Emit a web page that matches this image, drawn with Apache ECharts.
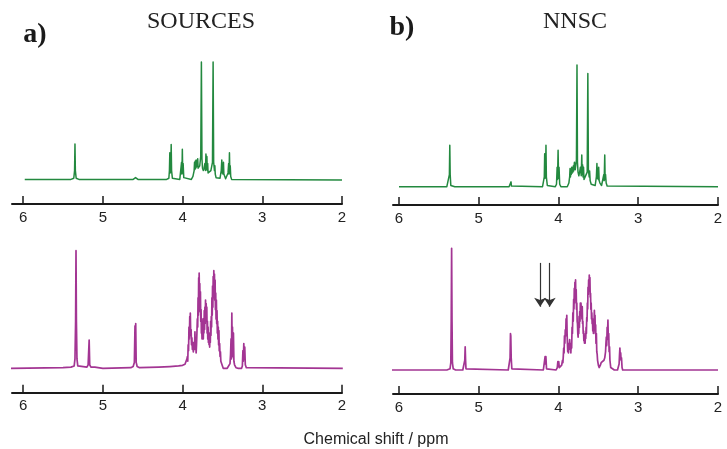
<!DOCTYPE html>
<html>
<head>
<meta charset="utf-8">
<script src="https://cdn.jsdelivr.net/npm/echarts@6/dist/echarts.min.js"></script>
<style>html,body{margin:0;padding:0;background:#fff}#c{width:727px;height:449px}</style>
</head>
<body>
<div id="c"></div>
<script>
// ---------- data (chemical shift in ppm, relative intensity in % of panel max) ----------
const tickValues = [2, 3, 4, 5, 6];
const panelTitles = ['SOURCES', 'NNSC'];
const panelLetters = ['a)', 'b)'];
const axisTitle = 'Chemical shift / ppm';

// a) SOURCES, top (green)
const srcTopPpm = [5.98,5.40,5.365,5.355,5.35,5.345,5.335,5.30,4.62,4.595,4.59,4.585,4.56,4.20,4.172,4.165,4.16,4.155,4.148,4.143,4.138,4.128,4.11,4.035,4.02,4.013,4.008,4.003,3.998,3.993,3.985,3.97,3.89,3.87,3.855,3.85,3.845,3.84,3.835,3.83,3.825,3.82,3.815,3.81,3.805,3.795,3.785,3.772,3.764,3.757,3.75,3.74,3.73,3.72,3.713,3.707,3.70,3.695,3.69,3.685,3.68,3.67,3.66,3.645,3.625,3.617,3.61,3.60,3.595,3.59,3.58,3.56,3.53,3.515,3.508,3.503,3.498,3.493,3.487,3.482,3.475,3.46,3.44,3.43,3.422,3.417,3.412,3.407,3.402,3.396,3.385,3.36,2.0];
const srcTopInt = [0.5,0.5,1.5,8,30.5,8,1.5,0.5,0.5,1,2,1,0.5,0.5,1.5,8,23,6,8,30,8,1.5,0.5,0.5,2,15,5,26,6,14,2,0.5,0.5,3,8,15,9,16,10,17,11,16,12,18,10,9,12,20,100,18,10,8,10,14,8,22,9,20,8,14,6,5,6,8,15,100,15,8,12,5,2,1,1.5,8,17,6,13,5,15,5,4,1,1,6,14,5,23,6,12,3,0.5,0,0];

// b) NNSC, top (green)
const nnscTopPpm = [6.0,5.40,5.375,5.368,5.363,5.358,5.35,5.30,4.62,4.60,4.595,4.59,4.57,4.20,4.185,4.178,4.173,4.168,4.162,4.157,4.152,4.14,4.12,4.04,4.025,4.017,4.012,4.005,3.999,3.993,3.985,3.97,3.89,3.87,3.86,3.855,3.85,3.845,3.84,3.835,3.83,3.825,3.82,3.815,3.81,3.80,3.79,3.775,3.768,3.762,3.755,3.745,3.735,3.725,3.715,3.708,3.703,3.698,3.692,3.686,3.68,3.67,3.655,3.64,3.632,3.625,3.615,3.61,3.603,3.59,3.57,3.54,3.525,3.518,3.513,3.507,3.502,3.496,3.49,3.48,3.46,3.44,3.432,3.427,3.42,3.415,3.41,3.402,3.39,3.37,2.0];
const nnscTopInt = [0,0,1,10,34,10,1,0,0,0.5,4,0.5,0,0,1,8,27,7,10,34,8,1,0,0,2,16,6,30,7,16,2,0,0,3,8,15,8,14,10,16,11,15,12,17,13,20,14,22,100,20,12,9,12,16,9,26,10,18,8,16,6,5,7,12,93,14,8,13,5,2,1,1,8,19,7,15,6,16,5,3,1,2,10,5,26,6,10,3,0.5,0,0];

// a) SOURCES, bottom (magenta)
const srcBotPpm = [6.18,5.5,5.40,5.36,5.35,5.342,5.337,5.332,5.325,5.315,5.29,5.20,5.185,5.172,5.165,5.15,5.1,5.0,4.65,4.62,4.605,4.597,4.592,4.588,4.582,4.57,4.54,4.30,4.16,4.15,4.14,4.05,4.0,3.97,3.955,3.945,3.94,3.935,3.93,3.925,3.92,3.915,3.91,3.907,3.903,3.898,3.893,3.888,3.883,3.877,3.872,3.865,3.86,3.855,3.85,3.845,3.84,3.835,3.83,3.825,3.82,3.815,3.81,3.806,3.802,3.798,3.795,3.792,3.788,3.784,3.78,3.776,3.772,3.768,3.764,3.76,3.756,3.752,3.748,3.744,3.74,3.736,3.732,3.728,3.724,3.72,3.716,3.712,3.708,3.704,3.70,3.696,3.692,3.688,3.684,3.68,3.676,3.672,3.668,3.664,3.66,3.656,3.652,3.648,3.644,3.64,3.636,3.632,3.628,3.624,3.62,3.616,3.612,3.608,3.604,3.60,3.596,3.592,3.588,3.584,3.58,3.576,3.572,3.568,3.564,3.56,3.556,3.552,3.548,3.544,3.54,3.535,3.53,3.525,3.52,3.51,3.50,3.49,3.44,3.42,3.405,3.398,3.392,3.387,3.382,3.378,3.374,3.369,3.362,3.356,3.348,3.33,3.30,3.26,3.25,3.243,3.238,3.232,3.226,3.22,3.213,3.2,3.18,1.99];
const srcBotInt = [0,0.5,1,2,8,40,100,40,8,2,1,1,3,24,3,1,1,0,0.5,1.5,5,36,20,38,5,1.5,0.5,1,1.5,3,1.5,2,2.5,3.5,4,8,10,6,20,15,35,25,44,30,47,28,33,20,26,16,22,14,18,22,16,31,18,24,13,20,30,42,35,60,45,77,55,81,58,72,48,65,40,50,30,35,25,38,28,42,25,40,30,49,33,52,38,58,42,55,40,52,30,40,25,35,22,30,20,26,18,30,22,40,28,44,35,60,45,70,52,78,60,83,62,80,58,75,50,64,42,58,38,49,30,40,25,35,20,32,15,21,10,14,6,7,2,0,0,1,4,12,25,8,47,20,35,10,30,6,3,0.5,0,0,2,15,6,21,8,18,3,0.5,0,0];

// b) NNSC, bottom (magenta)
const nnscBotPpm = [6.21,5.40,5.36,5.35,5.345,5.34,5.335,5.33,5.32,5.29,5.20,5.18,5.175,5.17,5.165,5.16,5.14,4.63,4.615,4.607,4.602,4.598,4.593,4.585,4.56,4.19,4.175,4.168,4.163,4.158,4.15,4.13,4.03,4.015,4.008,4.003,3.997,3.99,3.975,3.96,3.95,3.945,3.94,3.935,3.93,3.925,3.92,3.915,3.91,3.905,3.90,3.896,3.892,3.888,3.884,3.88,3.875,3.87,3.865,3.86,3.855,3.85,3.845,3.84,3.835,3.83,3.825,3.82,3.815,3.81,3.806,3.802,3.798,3.794,3.79,3.786,3.782,3.778,3.774,3.77,3.766,3.762,3.758,3.754,3.75,3.746,3.742,3.738,3.734,3.73,3.726,3.722,3.718,3.714,3.71,3.706,3.702,3.698,3.694,3.69,3.686,3.682,3.678,3.674,3.67,3.666,3.662,3.658,3.654,3.65,3.646,3.642,3.638,3.634,3.63,3.626,3.622,3.618,3.614,3.61,3.606,3.602,3.598,3.594,3.59,3.586,3.582,3.578,3.574,3.57,3.566,3.562,3.558,3.554,3.55,3.546,3.542,3.538,3.534,3.53,3.525,3.52,3.515,3.51,3.50,3.49,3.475,3.465,3.455,3.44,3.43,3.42,3.41,3.405,3.40,3.395,3.39,3.385,3.38,3.375,3.37,3.365,3.36,3.355,3.345,3.33,3.30,3.26,3.25,3.24,3.235,3.23,3.225,3.22,3.215,3.21,3.203,3.195,2.0];
const nnscBotInt = [0,0,1,6,40,100,40,6,1,0,0,1,8,19,8,1,0,0,1,10,30,28,10,1,0,0,1,11,5,11,1,0,0,2,7,3,7,2,2,4,8,6,11,18,14,28,22,33,28,42,35,45,30,22,15,19,14,22,18,25,17,20,14,22,18,35,30,47,40,58,50,67,55,72,60,74,58,66,50,55,40,38,30,27,33,30,44,35,48,40,55,45,55,48,52,42,52,38,40,30,32,24,28,22,26,22,30,26,35,30,43,40,55,50,68,62,74,65,78,68,76,60,63,50,55,42,47,38,42,32,38,30,35,40,49,38,45,30,37,22,30,15,13,8,4,2,4,6,5,7,8,10,15,22,27,20,35,30,41,25,30,15,19,8,2,0.5,0,0,1,5,12,18,10,14,8,10,2,0,0];

// arrows in panel b) bottom
const arrowPpm = [4.23, 4.11];
const arrowFrom = 88;
const arrowTo = 52;

// ---------- chart ----------
const green = '#23893f';
const magenta = '#a33593';
const pair = (xs, ys) => xs.map((x, i) => [x, ys[i]]);

const panels = [
  { left: 12,  top: 62,    height: 118,   max: 6.14,  offset: 24,   ppm: srcTopPpm,  val: srcTopInt,  color: green,   lw: 1.5 },
  { left: 393, top: 65,    height: 121.7, max: 6.075, offset: 18.3, ppm: nnscTopPpm, val: nnscTopInt, color: green,   lw: 1.5 },
  { left: 12,  top: 250.7, height: 117.6, max: 6.14,  offset: 24.4, ppm: srcBotPpm,  val: srcBotInt,  color: magenta, lw: 1.7 },
  { left: 393, top: 248.3, height: 121.7, max: 6.075, offset: 24,   ppm: nnscBotPpm, val: nnscBotInt, color: magenta, lw: 1.7 }
];
const widths = [330, 325, 330, 325];

const chart = echarts.init(document.getElementById('c'), null, { renderer: 'canvas' });
const option = {
  animation: false,
  backgroundColor: '#ffffff',
  grid: panels.map((p, i) => ({ left: p.left, top: p.top, width: widths[i], height: p.height, outerBoundsMode: 'none', containLabel: false })),
  xAxis: panels.map((p, i) => ({
    type: 'value', gridIndex: i, min: 2, max: p.max, inverse: true, offset: p.offset,
    axisLine: { show: true, onZero: false, lineStyle: { color: '#1a1a1a', width: 2 } },
    axisTick: { show: true, inside: true, length: 8, customValues: tickValues, lineStyle: { color: '#1a1a1a', width: 1.5 } },
    axisLabel: { show: true, customValues: tickValues, margin: 6, fontSize: 15, color: '#222', fontFamily: 'Liberation Sans' },
    splitLine: { show: false }
  })),
  yAxis: panels.map((p, i) => ({ type: 'value', gridIndex: i, min: 0, max: 100, show: false })),
  series: panels.map((p, i) => {
    const s = {
      type: 'line', xAxisIndex: i, yAxisIndex: i, data: pair(p.ppm, p.val),
      showSymbol: false, symbol: 'none', clip: false, silent: true,
      lineStyle: { color: p.color, width: p.lw, join: 'round' }
    };
    if (i === 3) {
      s.markLine = {
        silent: true, symbol: ['none', 'arrow'], symbolSize: 9,
        label: { show: false },
        lineStyle: { color: '#333', width: 1.2, type: 'solid' },
        data: arrowPpm.map(x => [{ coord: [x, arrowFrom] }, { coord: [x, arrowTo] }])
      };
    }
    return s;
  }),
  graphic: [
    { type: 'text', x: 35, y: 35, style: { text: panelLetters[0], font: 'bold 28px "Liberation Serif"', fill: '#1a1a1a', textAlign: 'center', textVerticalAlign: 'middle' } },
    { type: 'text', x: 201, y: 22, style: { text: panelTitles[0], font: '24px "Liberation Serif"', fill: '#222', textAlign: 'center', textVerticalAlign: 'middle' } },
    { type: 'text', x: 402, y: 28, style: { text: panelLetters[1], font: 'bold 28px "Liberation Serif"', fill: '#1a1a1a', textAlign: 'center', textVerticalAlign: 'middle' } },
    { type: 'text', x: 575, y: 22, style: { text: panelTitles[1], font: '24px "Liberation Serif"', fill: '#222', textAlign: 'center', textVerticalAlign: 'middle' } },
    { type: 'text', x: 376, y: 440, style: { text: axisTitle, font: '16px "Liberation Sans"', fill: '#222', textAlign: 'center', textVerticalAlign: 'middle' } }
  ]
};
chart.setOption(option);
</script>
</body>
</html>
